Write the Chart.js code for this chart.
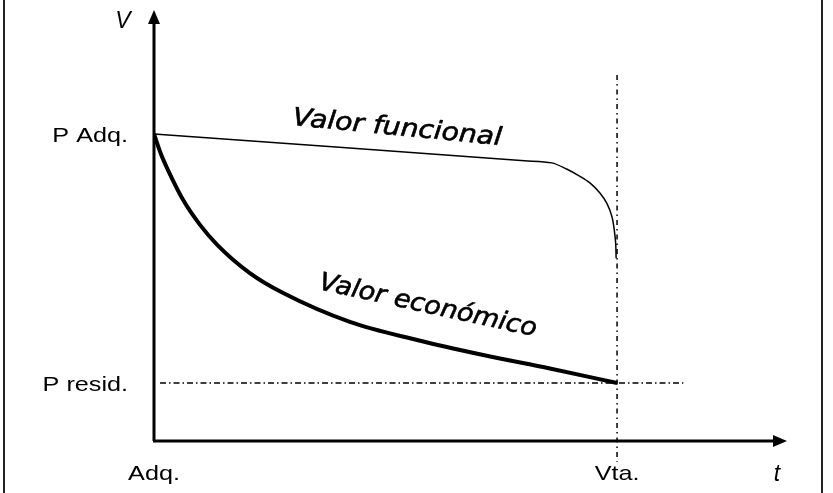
<!DOCTYPE html>
<html>
<head>
<meta charset="utf-8">
<script src="https://cdn.jsdelivr.net/npm/chart.js@4/dist/chart.umd.min.js"></script>
<style>
  html, body { margin: 0; padding: 0; background: #fff; }
  #wrap { width: 833px; height: 493px; }
</style>
</head>
<body>
<div id="wrap"><canvas id="myChart" width="833" height="493"></canvas></div>
<script>
// axis ticks (x = time, y = value)
const xTickValues = [0, 100];
const xTickLabels = ["Adq.", "Vta."];
const yTickValues = [18.9, 100];
const yTickLabels = ["P resid.", "P Adq."];
const xTitle = "t";
const yTitle = "V";

// Valor económico (thick curve)
const econX = [0, 1.5, 3.1, 6.3, 9.9, 13.6, 20.7, 27.9, 42.3, 56.8, 71.1, 85.5, 100];
const econY = [100, 93.5, 88.0, 78.5, 70.5, 64.0, 54.7, 48.2, 38.8, 32.9, 28.0, 23.6, 18.9];

// Valor funcional (thin line)
const funcX = [0, 80, 85.9, 89.1, 92.0, 94.2, 96.3, 97.8, 98.9, 99.4, 99.7, 99.8];
const funcY = [100, 91.3, 90.6, 88.6, 86.2, 84.0, 80.8, 77.4, 73.1, 68.7, 64.4, 59.5];

// reference lines
const residLineX = [1.3, 114.3];
const ventaLineY = [119.2, -6.8];

const curveLabels = ["Valor funcional", "Valor económico"];

const pts = (xs, ys) => xs.map((x, i) => ({ x: x, y: ys[i] }));

const sketchPlugin = {
    id: 'sketch',
    beforeDraw(chart) {
        const c = chart.ctx;
        c.save();
        c.fillStyle = '#fff';
        c.fillRect(0, 0, chart.width, chart.height);
        // frame
        c.strokeStyle = '#222';
        c.lineWidth = 2;
        c.beginPath();
        c.moveTo(4, 0); c.lineTo(4, chart.height);
        c.moveTo(822, 0); c.lineTo(822, chart.height);
        c.stroke();
        c.restore();
    },
    afterDatasetsDraw(chart) {
        const c = chart.ctx;
        const xs = chart.scales.x, ys = chart.scales.y;
        const x0 = xs.getPixelForValue(0), y0 = ys.getPixelForValue(0);
        const xEnd = xs.right, yEnd = ys.top;
        c.save();
        c.strokeStyle = '#000';
        c.fillStyle = '#000';
        c.lineWidth = 3;
        c.beginPath();
        c.moveTo(x0, y0); c.lineTo(x0, yEnd + 8);
        c.moveTo(x0 - 1, y0); c.lineTo(xEnd - 8, y0);
        c.stroke();
        // arrow heads
        c.beginPath();
        c.moveTo(x0, yEnd - 4); c.lineTo(x0 - 6, yEnd + 10); c.lineTo(x0 + 6, yEnd + 10); c.closePath();
        c.fill();
        c.beginPath();
        c.moveTo(xEnd, y0); c.lineTo(xEnd - 14, y0 - 6); c.lineTo(xEnd - 14, y0 + 6); c.closePath();
        c.fill();

        // tick labels, slightly stretched like the original
        const stretched = (txt, x, y, align) => {
            c.save();
            c.font = '21px "Liberation Sans", Arial, sans-serif';
            c.textBaseline = 'alphabetic';
            c.textAlign = align;
            c.translate(x, y);
            c.scale(1.2, 1);
            c.fillText(txt, 0, 0);
            c.restore();
        };
        yTickValues.forEach((v, i) => {
            stretched(yTickLabels[i], 128, ys.getPixelForValue(v) + 8, 'right');
        });
        xTickValues.forEach((v, i) => {
            stretched(xTickLabels[i], xs.getPixelForValue(v), 480, 'center');
        });

        // axis titles
        c.font = 'italic 23px "Liberation Sans", Arial, sans-serif';
        c.textAlign = 'center';
        c.fillText(yTitle, 123, 28);
        c.fillText(xTitle, 777, 481);

        // curve labels (hand-written look: oblique + light stroke)
        const slanted = (txt, x, y, angle, width) => {
            c.save();
            c.font = 'italic 25px "DejaVu Sans", sans-serif';
            c.textAlign = 'left';
            c.translate(x, y);
            c.rotate(angle * Math.PI / 180);
            const w = c.measureText(txt).width;
            c.scale(width / w, 1);
            c.lineWidth = 0.6;
            c.fillText(txt, 0, 0);
            c.strokeText(txt, 0, 0);
            c.restore();
        };
        slanted(curveLabels[0], 292, 125, 5.5, 210);
        slanted(curveLabels[1], 318, 289, 12.3, 222);
        c.restore();
    }
};

new Chart(document.getElementById('myChart').getContext('2d'), {
    type: 'scatter',
    data: {
        datasets: [
            {
                label: curveLabels[1],
                data: pts(econX, econY),
                showLine: true,
                borderColor: '#000',
                borderWidth: 4,
                pointRadius: 0,
                cubicInterpolationMode: 'monotone'
            },
            {
                label: curveLabels[0],
                data: pts(funcX, funcY),
                showLine: true,
                borderColor: '#000',
                borderWidth: 1.5,
                pointRadius: 0,
                tension: 0.3
            },
            {
                label: 'P resid.',
                data: pts(residLineX, [yTickValues[0], yTickValues[0]]),
                showLine: true,
                borderColor: '#000',
                borderWidth: 1.3,
                borderDash: [6, 3, 1.5, 3],
                pointRadius: 0
            },
            {
                label: 'Vta.',
                data: pts([xTickValues[1], xTickValues[1]], ventaLineY),
                showLine: true,
                borderColor: '#000',
                borderWidth: 1.5,
                borderDash: [5, 4, 1.5, 4],
                pointRadius: 0,
                clip: false
            }
        ]
    },
    options: {
        responsive: false,
        animation: false,
        layout: { padding: { left: 154, right: 46, top: 14, bottom: 52 } },
        plugins: { legend: { display: false }, tooltip: { enabled: false } },
        scales: {
            x: { type: 'linear', min: 0, max: 136.7, display: false },
            y: { type: 'linear', min: 0, max: 139.1, display: false }
        }
    },
    plugins: [sketchPlugin]
});
</script>
</body>
</html>
